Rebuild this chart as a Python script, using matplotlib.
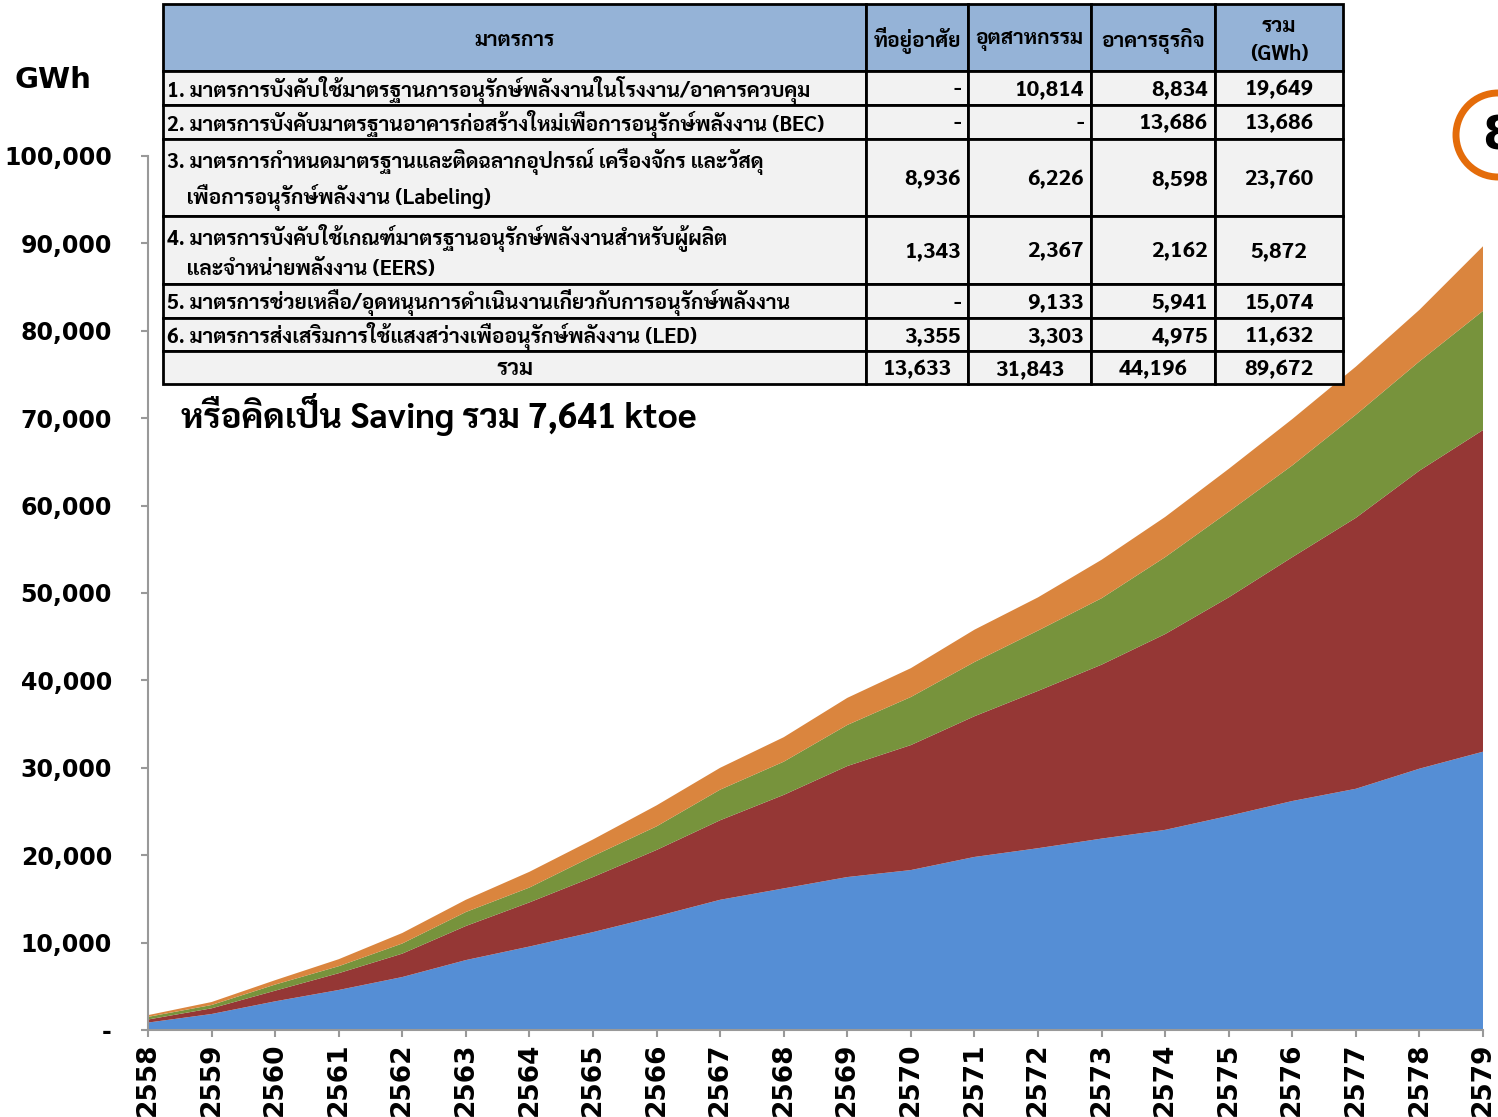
import matplotlib
matplotlib.use("Agg")
import matplotlib.pyplot as plt
from matplotlib import font_manager
from matplotlib.patches import Rectangle, Circle

# ---- data ----
years = list(range(2558, 2580))
blue = [850, 1830, 3280, 4580, 6060, 8000, 9550, 11200, 13000, 14900, 16200,
        17500, 18300, 19800, 20800, 21900, 22900, 24500, 26200, 27600, 29900, 31843]
red = [350, 650, 1220, 1920, 2680, 3900, 5050, 6300, 7600, 9100, 10700,
       12700, 14300, 16100, 18000, 19900, 22400, 25000, 27900, 31000, 34100, 36800]
green = [300, 380, 700, 800, 1160, 1600, 1700, 2400, 2700, 3500, 3800,
         4700, 5500, 6200, 6900, 7600, 8800, 9800, 10500, 11800, 12500, 13633]
orange = [200, 340, 500, 800, 1200, 1400, 1800, 1900, 2400, 2500, 2800,
          3100, 3300, 3700, 3800, 4400, 4600, 4900, 5300, 5500, 5900, 7396]

y_ticks = list(range(0, 100001, 10000))

header = ["มาตรการ", "ที่อยู่อาศัย", "อุตสาหกรรม", "อาคารธุรกิจ", "รวม\n(GWh)"]
measures = [
    "1. มาตรการบังคับใช้มาตรฐานการอนุรักษ์พลังงานในโรงงาน/อาคารควบคุม",
    "2. มาตรการบังคับมาตรฐานอาคารก่อสร้างใหม่เพื่อการอนุรักษ์พลังงาน (BEC)",
    "3. มาตรการกำหนดมาตรฐานและติดฉลากอุปกรณ์ เครื่องจักร และวัสดุ\n    เพื่อการอนุรักษ์พลังงาน (Labeling)",
    "4. มาตรการบังคับใช้เกณฑ์มาตรฐานอนุรักษ์พลังงานสำหรับผู้ผลิต\n    และจำหน่ายพลังงาน (EERS)",
    "5. มาตรการช่วยเหลือ/อุดหนุนการดำเนินงานเกี่ยวกับการอนุรักษ์พลังงาน",
    "6. มาตรการส่งเสริมการใช้แสงสว่างเพื่ออนุรักษ์พลังงาน (LED)",
]
residential = ["-", "-", "8,936", "1,343", "-", "3,355"]
industry = ["10,814", "-", "6,226", "2,367", "9,133", "3,303"]
commercial = ["8,834", "13,686", "8,598", "2,162", "5,941", "4,975"]
row_total = ["19,649", "13,686", "23,760", "5,872", "15,074", "11,632"]
grand_total = ["รวม", "13,633", "31,843", "44,196", "89,672"]

note = "หรือคิดเป็น Saving รวม 7,641 ktoe"

# ---- fonts: a Thai family that has a real bold face ----
thai = "DejaVu Sans"
for name in ["Noto Sans Thai Looped", "Sarabun", "Noto Sans Thai",
             "IBM Plex Sans Thai Looped", "Anuphan", "Bai Jamjuree"]:
    try:
        path = font_manager.findfont(
            font_manager.FontProperties(family=name, weight="bold"),
            fallback_to_default=False)
    except Exception:
        continue
    if "bold" in path.lower():
        thai = name
        break
tfont = [thai, "DejaVu Sans"]

# ---- figure ----
W, H = 1498, 1117
fig = plt.figure(figsize=(W / 100, H / 100), dpi=100)

def fx(px):
    return px / W

def fy(py):
    return 1 - py / H

ax = fig.add_axes([fx(148), fy(1030), fx(1483) - fx(148), fy(156) - fy(1030)])
colors = ["#558ED5", "#953735", "#77933C", "#DA853E"]
ax.stackplot(years, blue, red, green, orange, colors=colors, linewidth=0)
ax.set_xlim(years[0], years[-1])
ax.set_ylim(0, 100000)
ax.set_xticks(years)
ax.set_xticklabels([str(y) for y in years], rotation=90, fontsize=19,
                   fontweight="bold")
ax.set_yticks(y_ticks)
ax.set_yticklabels(["-"] + [f"{v:,}" for v in y_ticks[1:]], fontsize=17,
                   fontweight="bold")
for s in ["top", "right"]:
    ax.spines[s].set_visible(False)
for s in ["left", "bottom"]:
    ax.spines[s].set_color("#999999")
    ax.spines[s].set_linewidth(1.5)
ax.tick_params(axis="both", colors="#999999", labelcolor="black", length=5,
               width=1.5)
ax.tick_params(axis="y", pad=21)
ax.tick_params(axis="x", pad=4)

fig.text(fx(15), fy(80), "GWh", fontsize=21, fontweight="bold", va="center")

# overlay in pixel coordinates for the table
ov = fig.add_axes([0, 0, 1, 1], zorder=5)
ov.set_xlim(0, W)
ov.set_ylim(H, 0)
ov.axis("off")
ov.patch.set_alpha(0)

cols = [163, 866, 968, 1091, 1215, 1343]
rows = [4, 71, 105, 139, 216, 284, 318, 351, 384]

for r in range(len(rows) - 1):
    for c in range(len(cols) - 1):
        fc = "#95B3D7" if r == 0 else "#F2F2F2"
        ov.add_patch(Rectangle((cols[c], rows[r]), cols[c + 1] - cols[c],
                               rows[r + 1] - rows[r], facecolor=fc,
                               edgecolor="black", linewidth=2))

fs = 15
for c, h in enumerate(header):
    cx = (cols[c] + cols[c + 1]) / 2
    ov.text(cx, (rows[0] + rows[1]) / 2 + 3, h, ha="center", va="center",
            fontsize=fs, fontweight="bold", family=tfont, linespacing=1.45)

for i, m in enumerate(measures):
    cy = (rows[i + 1] + rows[i + 2]) / 2 + 2
    ov.text(cols[0] + 4, cy, m, ha="left", va="center", fontsize=fs,
            fontweight="bold", family=tfont, linespacing=1.45)
    for c, col in enumerate([residential, industry, commercial]):
        ov.text(cols[c + 2] - 7, cy, col[i], ha="right", va="center",
                fontsize=fs + 1, fontweight="bold", family=tfont)
    ov.text((cols[4] + cols[5]) / 2, cy, row_total[i], ha="center",
            va="center", fontsize=fs + 1, fontweight="bold", family=tfont)

cy = (rows[-2] + rows[-1]) / 2 + 2
for c, t in enumerate(grand_total):
    ov.text((cols[c] + cols[c + 1]) / 2, cy, t, ha="center", va="center",
            fontsize=fs + 1, fontweight="bold", family=tfont)

ov.text(181, 415, note, ha="left", va="center", fontsize=25,
        fontweight="bold", family=tfont)

# badge at the right edge
ov.add_patch(Circle((1498, 135), 42, facecolor="white", edgecolor="#E46C0A",
                    linewidth=5))
ov.text(1482, 137, "8", ha="left", va="center", fontsize=34,
        fontweight="bold")

fig.savefig("out.png", dpi=100)
